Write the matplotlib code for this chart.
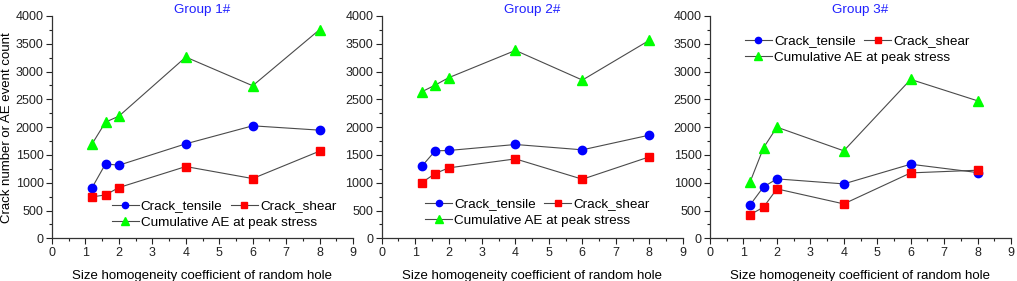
import matplotlib
matplotlib.use("Agg")
import matplotlib.pyplot as plt
from matplotlib.ticker import MultipleLocator

plt.rcParams['font.family'] = ['Liberation Sans', 'DejaVu Sans']

x = [1.2, 1.6, 2, 4, 6, 8]

groups = ["Group 1#", "Group 2#", "Group 3#"]

tensile_1 = [913, 1339, 1315, 1700, 2024, 1946]
shear_1 = [745, 781, 913, 1291, 1075, 1568]
ae_1 = [1700, 2090, 2198, 3261, 2745, 3754]

tensile_2 = [1297, 1574, 1580, 1688, 1592, 1856]
shear_2 = [1003, 1165, 1267, 1429, 1063, 1465]
ae_2 = [2637, 2757, 2889, 3381, 2847, 3562]

tensile_3 = [601, 925, 1069, 979, 1333, 1183]
shear_3 = [426, 559, 889, 619, 1177, 1225]
ae_3 = [1015, 1628, 2000, 1574, 2859, 2474]

data = [(tensile_1, shear_1, ae_1),
        (tensile_2, shear_2, ae_2),
        (tensile_3, shear_3, ae_3)]

W, H = 1017, 281
fig = plt.figure(figsize=(W / 100, H / 100), dpi=100)

# axes boxes in pixels
lefts = [52, 381.7, 710]
ax_w = 301
ax_top, ax_bot = 16, 238.3
# legend anchors (axes fraction): x, row1 y, row2 y
leg_pos = [(0.198, 0.145, 0.070),
           (0.144, 0.154, 0.079),
           (0.116, 0.887, 0.814)]

line_kw = dict(color="#4a4a4a", lw=0.8)
for i, (tens, shear, ae) in enumerate(data):
    ax = fig.add_axes([lefts[i] / W, (H - ax_bot) / H, ax_w / W, (ax_bot - ax_top) / H])
    h1, = ax.plot(x, tens, marker="o", ms=6, mfc="#0000ff", mec="#0000ff", **line_kw)
    h2, = ax.plot(x, shear, marker="s", ms=5.2, mfc="#ff0000", mec="#ff0000", **line_kw)
    h3, = ax.plot(x, ae, marker="^", ms=7.5, mfc="#00ff00", mec="#00ff00", **line_kw)
    ax.set_xlim(0, 9)
    ax.set_ylim(0, 4000)
    ax.xaxis.set_major_locator(MultipleLocator(1))
    ax.xaxis.set_minor_locator(MultipleLocator(0.5))
    ax.yaxis.set_major_locator(MultipleLocator(500))
    ax.yaxis.set_minor_locator(MultipleLocator(250))
    ax.tick_params(which="major", direction="out", length=4, width=0.8, labelsize=9, pad=2, colors="#222222")
    ax.tick_params(which="minor", direction="out", length=2, width=0.8, colors="#222222")
    for s in ["top", "right"]:
        ax.spines[s].set_visible(False)
    for s in ["left", "bottom"]:
        ax.spines[s].set_color("#333333")
        ax.spines[s].set_linewidth(0.9)
    ax.set_xlabel("Size homogeneity coefficient of random hole", fontsize=9.5, labelpad=8)
    if i == 0:
        ax.set_ylabel("Crack number or AE event count", fontsize=9.5, labelpad=2)
    ax.set_title(groups[i], color="#2020ff", fontsize=9.7, pad=2.5)

    lx, ly1, ly2 = leg_pos[i]
    leg_kw = dict(frameon=False, fontsize=9.7,
                  handlelength=2.0, handletextpad=0.15, markerscale=0.75,
                  borderpad=0, borderaxespad=0, loc="center left", columnspacing=0.65)
    leg1 = ax.legend([h1, h2], ["Crack_tensile", "Crack_shear"], ncol=2,
                     bbox_to_anchor=(lx, ly1), **leg_kw)
    ax.add_artist(leg1)
    ax.legend([h3], ["Cumulative AE at peak stress"], bbox_to_anchor=(lx, ly2), **leg_kw)

fig.savefig("out.png", dpi=100)
